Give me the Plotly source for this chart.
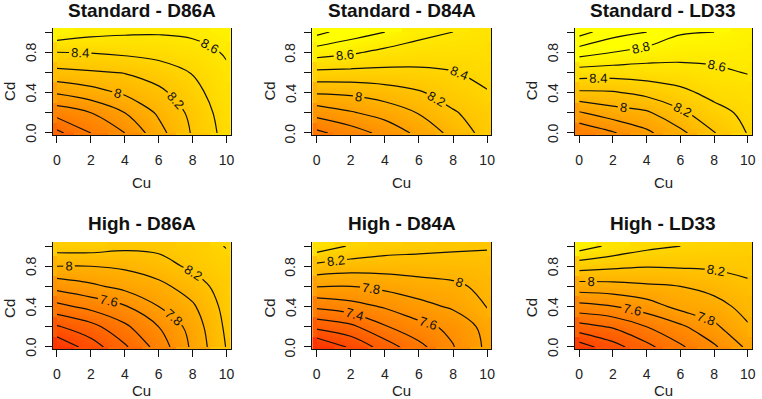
import plotly.graph_objects as go
from plotly.subplots import make_subplots

# ---- data (grid values) ----
cu = [0, 2, 4, 6, 8, 10]
cd = [0.0, 0.2, 0.4, 0.6, 0.8, 1.0]

# rows follow cd (0 -> 1), columns follow cu (0 -> 10)
z_std_d86a = [
    [7.15, 7.40, 7.60, 7.93, 8.22, 8.47],
    [7.48, 7.60, 7.80, 8.03, 8.25, 8.50],
    [7.82, 7.92, 8.03, 8.15, 8.33, 8.53],
    [8.15, 8.18, 8.21, 8.30, 8.41, 8.57],
    [8.40, 8.41, 8.44, 8.47, 8.52, 8.62],
    [8.74, 8.66, 8.63, 8.62, 8.64, 8.70],
]
z_std_d84a = [
    [7.35, 7.50, 7.66, 7.85, 8.06, 8.28],
    [7.68, 7.78, 7.88, 8.01, 8.18, 8.30],
    [8.02, 8.04, 8.10, 8.18, 8.29, 8.39],
    [8.36, 8.35, 8.35, 8.36, 8.39, 8.45],
    [8.69, 8.63, 8.55, 8.51, 8.50, 8.50],
    [9.06, 8.90, 8.80, 8.66, 8.60, 8.56],
]
z_std_ld33 = [
    [7.43, 7.58, 7.76, 7.95, 8.19, 8.41],
    [7.78, 7.91, 7.97, 8.16, 8.33, 8.45],
    [8.17, 8.18, 8.26, 8.35, 8.46, 8.50],
    [8.50, 8.49, 8.50, 8.52, 8.56, 8.61],
    [8.89, 8.80, 8.72, 8.68, 8.67, 8.66],
    [9.28, 9.08, 9.00, 8.82, 8.80, 8.72],
]
z_high_d86a = [
    [6.62, 6.90, 7.17, 7.48, 7.84, 8.21],
    [6.98, 7.13, 7.36, 7.60, 7.88, 8.24],
    [7.34, 7.46, 7.58, 7.80, 7.97, 8.27],
    [7.67, 7.76, 7.86, 7.94, 8.10, 8.30],
    [8.00, 8.00, 8.03, 8.12, 8.24, 8.34],
    [8.30, 8.30, 8.25, 8.25, 8.30, 8.41],
]
z_high_d84a = [
    [6.60, 6.83, 7.09, 7.34, 7.59, 7.84],
    [7.05, 7.15, 7.38, 7.54, 7.65, 7.87],
    [7.44, 7.52, 7.62, 7.73, 7.83, 8.01],
    [7.81, 7.80, 7.85, 7.92, 7.96, 8.05],
    [8.14, 8.10, 8.09, 8.09, 8.10, 8.12],
    [8.52, 8.38, 8.30, 8.27, 8.24, 8.22],
]
z_high_ld33 = [
    [6.70, 6.92, 7.14, 7.37, 7.57, 7.84],
    [7.12, 7.22, 7.40, 7.56, 7.76, 7.98],
    [7.53, 7.59, 7.70, 7.86, 7.92, 8.07],
    [7.91, 7.93, 7.97, 8.00, 8.07, 8.16],
    [8.28, 8.24, 8.21, 8.22, 8.23, 8.26],
    [8.70, 8.55, 8.45, 8.40, 8.36, 8.33],
]

titles = ["Standard - D86A", "Standard - D84A", "Standard - LD33",
          "High - D86A", "High - D84A", "High - LD33"]
grids = [z_std_d86a, z_std_d84a, z_std_ld33, z_high_d86a, z_high_d84a, z_high_ld33]

x_ticks = [0, 2, 4, 6, 8, 10]
y_ticks = [0.0, 0.2, 0.4, 0.6, 0.8, 1.0]
y_labelled = [0.0, 0.4, 0.8]
y_labels = ["0.0", "0.4", "0.8"]

# ---- styling ----
W, H = 762, 399
FONT = "Liberation Sans, Arial, sans-serif"
ZMIN, ZMAX = 6.03, 8.86
CSCALE = [[0.0, "#FF0000"], [1.0, "#FFFF00"]]
COLS = [(53, 232), (314, 494), (578, 756)]
ROWS = [(28, 135), (242, 349)]

fig = make_subplots(rows=2, cols=3)

for i, (title, z) in enumerate(zip(titles, grids)):
    r, c = i // 3 + 1, i % 3 + 1
    fig.add_trace(go.Heatmap(x=cu, y=cd, z=z, zsmooth=False, colorscale=CSCALE,
                             zmin=ZMIN, zmax=ZMAX, showscale=False, hoverinfo="skip"),
                  row=r, col=c)
    fig.add_trace(go.Contour(
        x=cu, y=cd, z=z, colorscale=CSCALE, zmin=ZMIN, zmax=ZMAX, showscale=False,
        contours=dict(start=6.0, end=9.6, size=0.2, coloring="heatmap",
                      showlabels=True,
                      labelfont=dict(family=FONT, size=13, color="#111")),
        line=dict(color="#111", width=1.2, smoothing=1.0)),
        row=r, col=c)

annotations = []
for i, title in enumerate(titles):
    r, c = i // 3, i % 3
    x0, x1 = COLS[c]
    y0, y1 = ROWS[r]
    k = i + 1
    xa = "xaxis" if k == 1 else f"xaxis{k}"
    ya = "yaxis" if k == 1 else f"yaxis{k}"
    yref = "y" if k == 1 else f"y{k}"
    fig.layout[xa].update(
        domain=[x0 / W, x1 / W], range=[-0.25, 10.25],
        tickmode="array", tickvals=x_ticks, ticks="outside", ticklen=7,
        tickcolor="#111", tickwidth=1, showline=True, linecolor="#111", linewidth=1,
        showgrid=False, zeroline=False, ticklabelstandoff=5,
        tickfont=dict(family=FONT, size=14, color="#222"))
    fig.layout[ya].update(
        domain=[1 - y1 / H, 1 - y0 / H], range=[-0.02, 1.04],
        tickmode="array", tickvals=y_ticks, showticklabels=False,
        ticks="outside", ticklen=7, tickcolor="#111", tickwidth=1,
        showline=True, mirror=True, linecolor="#111", linewidth=1,
        showgrid=False, zeroline=False)
    for v, t in zip(y_labelled, y_labels):
        annotations.append(dict(text=t, x=(x0 - 22) / W, y=v, xref="paper", yref=yref,
                                showarrow=False, xanchor="center", yanchor="middle",
                                textangle=-90,
                                font=dict(family=FONT, size=14, color="#222")))
    cx = (x0 + x1) / 2
    title_y = 10 if r == 0 else 223
    cu_y = 182 if r == 0 else 390
    cd_y = 91 if r == 0 else 308
    annotations.append(dict(text=f"<b>{title}</b>", x=cx / W, y=1 - title_y / H,
                            xref="paper", yref="paper", showarrow=False,
                            xanchor="center", yanchor="middle",
                            font=dict(family=FONT, size=19, color="#111")))
    annotations.append(dict(text="Cu", x=cx / W, y=1 - cu_y / H,
                            xref="paper", yref="paper", showarrow=False,
                            xanchor="center", yanchor="middle",
                            font=dict(family=FONT, size=15, color="#222")))
    annotations.append(dict(text="Cd", x=(x0 - 44) / W, y=1 - cd_y / H,
                            xref="paper", yref="paper", showarrow=False,
                            xanchor="center", yanchor="middle", textangle=-90,
                            font=dict(family=FONT, size=15, color="#222")))

fig.update_layout(width=W, height=H, margin=dict(l=0, r=0, t=0, b=0),
                  paper_bgcolor="white", plot_bgcolor="white",
                  showlegend=False, annotations=annotations, hovermode=False)

fig.write_html("out.html", config={"displayModeBar": False, "staticPlot": True},
               post_script="document.body.style.margin='0';document.body.style.overflow='hidden';")
